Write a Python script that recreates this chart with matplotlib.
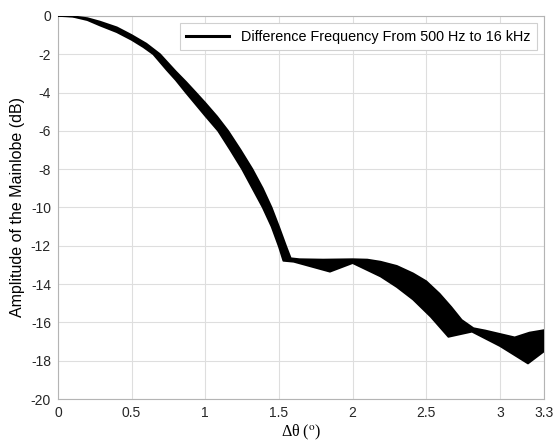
import matplotlib
matplotlib.use("Agg")
import matplotlib.pyplot as plt
from matplotlib.lines import Line2D

# upper edge of the band (least attenuation across the frequencies)
upper_x = [0.0, 0.1, 0.2, 0.285, 0.4, 0.5, 0.6, 0.693, 0.738, 0.8, 0.87,
           0.936, 1.0, 1.08, 1.155, 1.24, 1.32, 1.39, 1.45, 1.5, 1.55, 1.58,
           1.64, 1.8, 2.0, 2.1, 2.19, 2.3, 2.41, 2.5, 2.59, 2.67, 2.74, 2.82,
           2.9, 3.0, 3.1, 3.2, 3.3]
upper_y = [0.0, -0.02, -0.12, -0.3, -0.6, -1.0, -1.45, -2.0, -2.38, -2.9,
           -3.45, -4.0, -4.54, -5.25, -6.0, -7.0, -8.0, -9.0, -10.0, -11.0,
           -12.05, -12.65, -12.7, -12.72, -12.7, -12.72, -12.83, -13.05,
           -13.44, -13.85, -14.5, -15.2, -15.87, -16.3, -16.42, -16.6, -16.78,
           -16.53, -16.4]

# lower edge of the band
lower_x = [0.0, 0.1, 0.2, 0.285, 0.4, 0.5, 0.58, 0.647, 0.738, 0.8, 0.868,
           1.0, 1.087, 1.17, 1.25, 1.32, 1.39, 1.45, 1.50, 1.53, 1.60, 1.846,
           2.0, 2.19, 2.3, 2.41, 2.53, 2.65, 2.81, 3.0, 3.19, 3.3]
lower_y = [0.0, -0.04, -0.22, -0.5, -0.85, -1.25, -1.63, -2.0, -2.82, -3.35,
           -4.0, -5.22, -6.0, -7.0, -8.0, -9.0, -10.0, -11.0, -12.05, -12.78,
           -12.83, -13.35, -12.9, -13.6, -14.15, -14.8, -15.7, -16.75, -16.48,
           -17.23, -18.14, -17.5]

legend_label = "Difference Frequency From 500 Hz to 16 kHz"
x_ticks = [0, 0.5, 1, 1.5, 2, 2.5, 3, 3.3]
x_tick_labels = ["0", "0.5", "1", "1.5", "2", "2.5", "3", "3.3"]
y_ticks = list(range(-20, 1, 2))

plt.rcParams["font.family"] = ["Liberation Sans", "DejaVu Sans"]
plt.rcParams["mathtext.fontset"] = "stix"
plt.rcParams["axes.unicode_minus"] = False

fig = plt.figure(figsize=(5.57, 4.41), dpi=100)
ax = fig.add_axes([0.104, 0.095, 0.873, 0.869])

band_x = upper_x + lower_x[::-1]
band_y = upper_y + lower_y[::-1]
ax.fill(band_x, band_y, color="black", linewidth=0, zorder=3)
ax.plot(upper_x, upper_y, color="black", linewidth=1.3, zorder=3)
ax.plot(lower_x, lower_y, color="black", linewidth=1.3, zorder=3)

ax.set_xlim(0, 3.3)
ax.set_ylim(-20, 0)
ax.set_xticks(x_ticks)
ax.set_xticklabels(x_tick_labels)
ax.set_yticks(y_ticks)
ax.tick_params(axis="both", length=0, labelsize=10, pad=5, colors="#262626")
ax.grid(True, color="#dedede", linewidth=0.8)
ax.set_axisbelow(True)
for spine in ax.spines.values():
    spine.set_color("#b4b4b4")
    spine.set_linewidth(0.8)

ax.set_xlabel("\u0394\u03b8 ($^{\\mathrm{o}}$)", fontsize=11.5, labelpad=2,
              family=["Liberation Serif", "DejaVu Serif"])
ax.set_ylabel("Amplitude of the Mainlobe (dB)", fontsize=11.5, labelpad=4)

handle = Line2D([], [], color="black", linewidth=2.2)
leg = ax.legend([handle], [legend_label], loc="upper right", fontsize=10.4,
                fancybox=False, framealpha=1, edgecolor="#d0d0d0",
                borderaxespad=0.5, handlelength=3.0, borderpad=0.45)
leg.get_frame().set_linewidth(0.8)

fig.savefig("out.png", dpi=100)
